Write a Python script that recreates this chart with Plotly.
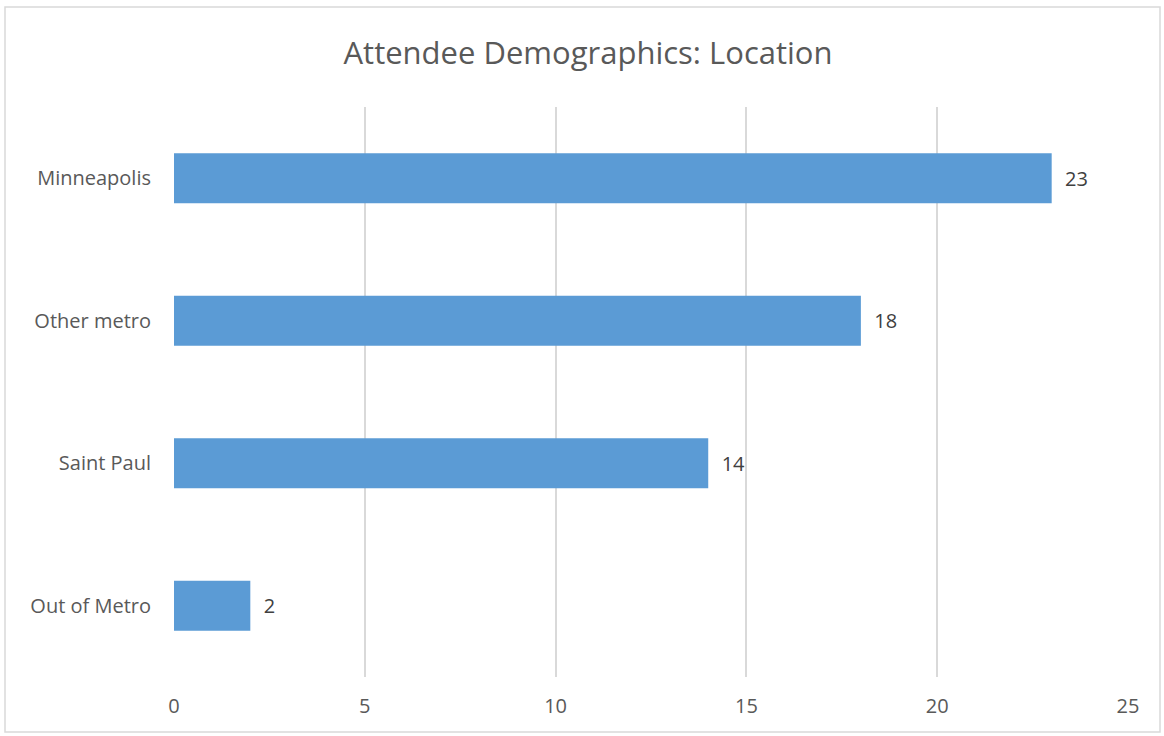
import plotly.graph_objects as go

categories = ["Out of Metro", "Saint Paul", "Other metro", "Minneapolis"]
values = [2, 14, 18, 23]
x_ticks = [0, 5, 10, 15, 20, 25]

W, H = 1164, 736
L, R, T, B = 174, 36, 107, 59
pw, ph = W - L - R, H - T - B

fig = go.Figure(go.Bar(
    y=categories, x=values, orientation="h",
    marker=dict(color="#5B9BD5", line=dict(width=0)),
    width=0.35,
    text=values, texttemplate="  %{x}", textposition="outside",
    textfont=dict(color="#404040", size=20, family="Open Sans"),
    cliponaxis=False,
))

fig.update_layout(
    width=W, height=H,
    margin=dict(l=L, r=R, t=T, b=B, pad=0),
    paper_bgcolor="white", plot_bgcolor="white",
    title=dict(text="Attendee Demographics: Location", x=588 / W, xanchor="center",
               xref="container", y=1 - 53 / H, yanchor="middle",
               font=dict(family="Open Sans", size=31, color="#595959")),
    font=dict(family="Open Sans", color="#595959", size=20),
    showlegend=False,
    xaxis=dict(range=[0, 25], tickvals=x_ticks, showgrid=True, gridcolor="#D9D9D9",
               gridwidth=1.5, zeroline=False, showline=False, ticks="",
               tickfont=dict(size=20, color="#595959"), ticklabelstandoff=15),
    yaxis=dict(categoryorder="array", categoryarray=categories, showgrid=False,
               zeroline=False, showline=False, ticks="",
               tickfont=dict(size=20, color="#595959"), ticklabelstandoff=22),
    shapes=[dict(type="rect", xref="paper", yref="paper",
                 x0=(5 - L) / pw, x1=(1160 - L) / pw,
                 y0=(H - B - 732) / ph, y1=(H - B - 7) / ph,
                 line=dict(color="#D9D9D9", width=1.5), fillcolor="rgba(0,0,0,0)",
                 layer="below")],
)

fig.write_html("out.html", config={"displayModeBar": False},
               post_script="document.body.style.margin='0';")
